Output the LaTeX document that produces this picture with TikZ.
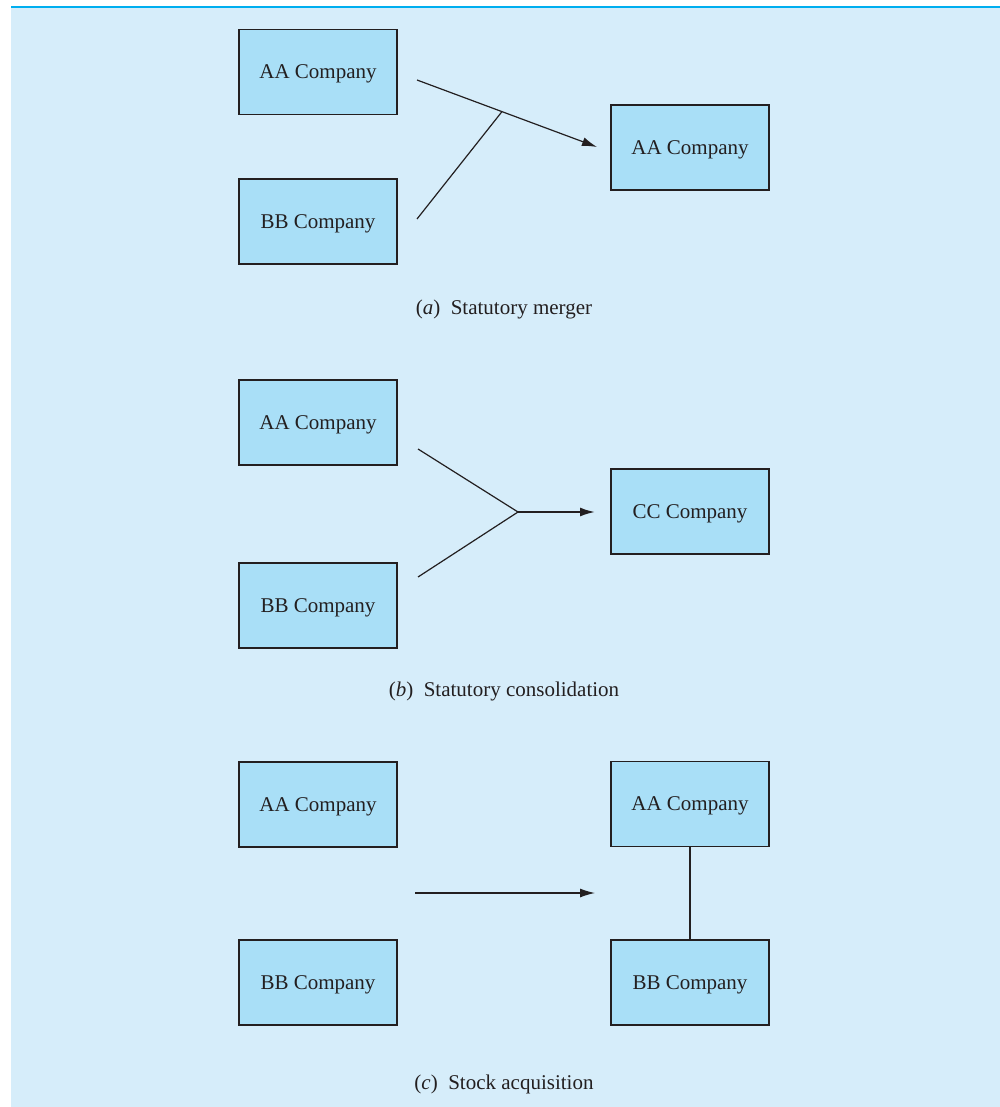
\documentclass[tikz,border=0pt]{standalone}
\usepackage{fontspec}
\setmainfont{Liberation Serif}
\usetikzlibrary{arrows.meta,calc}
\definecolor{panelbg}{RGB}{214,237,250}
\definecolor{boxfill}{RGB}{169,223,247}
\definecolor{topline}{RGB}{0,174,239}
\definecolor{ink}{RGB}{35,31,32}
\tikzset{
  company/.style={draw=ink, line width=1.3pt, fill=boxfill, minimum width=158pt, minimum height=85pt, inner sep=0pt, text depth=0pt, font=\fontsize{21pt}{25pt}\selectfont, text=ink},
  conn/.style={draw=ink, line width=1.2pt},
  arr/.style={conn, -{Latex[length=15pt,width=9pt]}},
  caption/.style={font=\fontsize{21pt}{25pt}\selectfont, text=ink, inner sep=0pt}
}
\begin{document}
\begin{tikzpicture}[x=1pt,y=-1pt]
\useasboundingbox (0,0) rectangle (1000,1107);
\fill[white] (0,0) rectangle (1000,1107);
\fill[panelbg] (11,7) rectangle (1000,1107);
\draw[topline, line width=2.2pt] (11,7) -- (1000,7);

% (a) Statutory merger
\node[company] (aAA) at (318,72) {AA Company};
\node[company] (aBB) at (318,221.5) {BB Company};
\node[company] (aRes) at (690,147.5) {AA Company};
\coordinate (aS1) at (417,80);
\coordinate (aS2) at (417,219);
\coordinate (aT) at (597,147);
\coordinate (aJ) at ($(aS1)!0.472!(aT)$);
\draw[arr] (aS1) -- (aT);
\draw[conn] (aS2) -- (aJ);
\node[caption] (capA) at (504,309) {(\textit{a})\hspace{0.5em}Statutory merger};

% (b) Statutory consolidation
\node[company] (bAA) at (318,422.5) {AA Company};
\node[company] (bBB) at (318,605.5) {BB Company};
\node[company] (bCC) at (690,511.5) {CC Company};
\coordinate (bS1) at (418,449);
\coordinate (bS2) at (418,577);
\coordinate (bJ) at (518,512);
\coordinate (bT) at (595,512);
\draw[conn] (bS1) -- (bJ) -- (bS2);
\draw[arr, line width=1.8pt] (bJ) -- (bT);
\node[caption] (capB) at (504,691) {(\textit{b})\hspace{0.5em}Statutory consolidation};

% (c) Stock acquisition
\node[company] (cAA) at (318,804.5) {AA Company};
\node[company] (cBB) at (318,982.5) {BB Company};
\node[company] (cRA) at (690,804) {AA Company};
\node[company] (cRB) at (690,982.5) {BB Company};
\coordinate (cS) at (415,893);
\coordinate (cT) at (595,893);
\draw[arr] (cS) -- (cT);
\draw[conn] (cRA.south) -- (cRB.north);
\node[caption] (capC) at (504,1084) {(\textit{c})\hspace{0.5em}Stock acquisition};
\end{tikzpicture}
\end{document}
